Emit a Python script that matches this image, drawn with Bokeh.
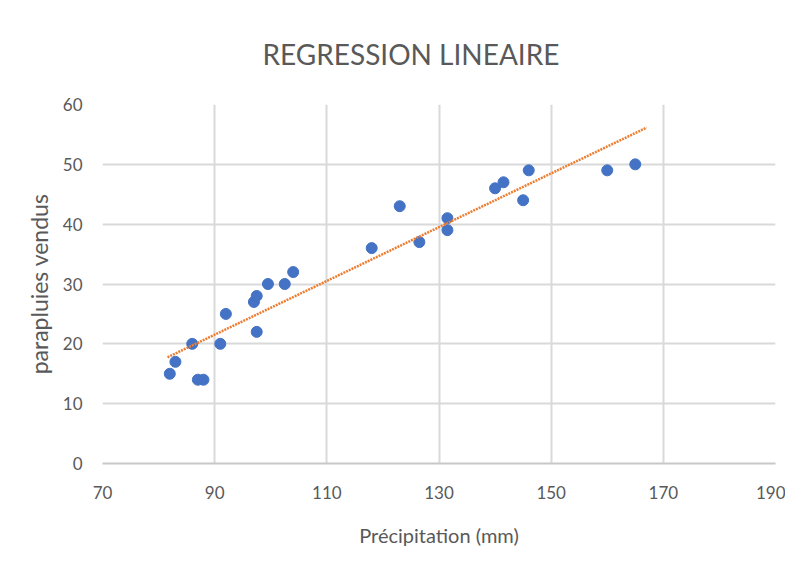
import numpy as np
from bokeh.plotting import figure
from bokeh.models import Range1d, FixedTicker, ColumnDataSource
from bokeh.embed import file_html
from bokeh.resources import INLINE

# Data
precip = [82, 83, 86, 87, 88, 91, 92, 97.5, 97, 97.5, 99.5, 102.5, 104,
          118, 123, 126.5, 131.5, 131.5, 140, 141.5, 145, 146, 160, 165]
sold = [15, 17, 20, 14, 14, 20, 25, 22, 27, 28, 30, 30, 32,
        36, 43, 37, 41, 39, 46, 47, 44, 49, 49, 50]
x_ticks = [70, 90, 110, 130, 150, 170, 190]
y_ticks = [0, 10, 20, 30, 40, 50, 60]
trend_span = [81.6, 167]

slope, intercept = np.polyfit(precip, sold, 1)
trend_y = [slope * t + intercept for t in trend_span]

GRAY = "#595959"
FONT = "Lato"

p = figure(width=785, height=564, output_backend="svg", toolbar_location=None,
           x_range=Range1d(70, 190), y_range=Range1d(0, 60),
           min_border_left=102, min_border_right=10, min_border_top=104,
           min_border_bottom=101)

p.title.text = "REGRESSION LINEAIRE"
p.title.align = "left"
p.title.offset = 160
p.title.text_font = FONT
p.title.text_font_style = "normal"
p.title.text_font_size = "28px"
p.title.text_color = GRAY
p.title.standoff = 67

p.outline_line_color = None
p.xgrid.grid_line_color = "#d9d9d9"
p.ygrid.grid_line_color = "#d9d9d9"
p.xgrid.grid_line_width = 2
p.ygrid.grid_line_width = 2
p.xaxis.ticker = FixedTicker(ticks=x_ticks)
p.yaxis.ticker = FixedTicker(ticks=y_ticks)
p.xgrid.ticker = FixedTicker(ticks=x_ticks)
p.ygrid.ticker = FixedTicker(ticks=y_ticks)

for ax in (p.xaxis, p.yaxis):
    ax.major_tick_line_color = None
    ax.minor_tick_line_color = None
    ax.major_label_text_font = FONT
    ax.major_label_text_font_size = "17px"
    ax.major_label_text_color = GRAY
    ax.axis_label_text_font = FONT
    ax.axis_label_text_color = GRAY
    ax.axis_label_text_font_style = "normal"

p.xaxis.axis_label_text_font_size = "20px"
p.yaxis.axis_label_text_font_size = "23px"
p.xaxis.axis_line_color = "#c8c8c8"
p.xaxis.axis_line_width = 2
p.yaxis.axis_line_color = None
p.xaxis.major_label_standoff = 16
p.yaxis.major_label_standoff = 14
p.xaxis.axis_label = "Précipitation (mm)"
p.yaxis.axis_label = "parapluies vendus"
p.xaxis.axis_label_standoff = 21
p.yaxis.axis_label_standoff = 7

src = ColumnDataSource(dict(x=precip, y=sold))
p.scatter("x", "y", source=src, size=11, fill_color="#4472C4",
          line_color="#4472C4")
p.line(trend_span, trend_y, line_color="#ED7D31", line_width=2.5,
       line_dash="2 1")

open("out.html", "w").write(file_html(p, INLINE))
